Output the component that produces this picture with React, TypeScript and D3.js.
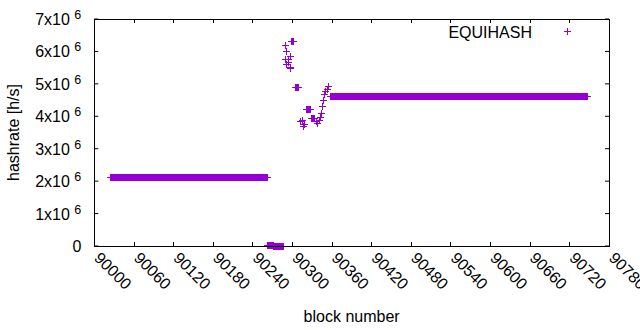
import React, { useEffect, useRef } from 'react';
import * as d3 from 'd3';

// flat runs of blocks sharing the same hashrate: [first block, last block, hashrate]
const flatRuns: [number, number, number][] = [
  [90025, 90263, 2.1e6],
  [90263, 90271, 0.02e6],
  [90272, 90287, 0],
  [90358, 90748, 4.62e6],
];

// individual blocks around the fork
const jumpBlocks = [
  90289, 90290, 90292, 90292, 90294, 90295, 90297, 90297, 90298,
  90299, 90300, 90301, 90302,
  90305, 90306, 90307, 90308, 90309, 90310,
  90313, 90316, 90317, 90319,
  90322, 90323, 90324, 90325, 90326, 90327, 90328,
  90329, 90330, 90331, 90332, 90333,
  90337, 90339, 90342, 90343, 90345, 90346, 90347, 90349, 90351, 90353, 90355,
];
const jumpRates = [
  5.74e6, 6.18e6, 6.01e6, 5.6e6, 5.76e6, 5.67e6, 5.84e6, 5.46e6, 5.5e6,
  6.31e6, 6.31e6, 6.31e6, 6.31e6,
  4.89e6, 4.89e6, 4.89e6, 4.89e6, 4.89e6, 4.89e6,
  3.85e6, 3.86e6, 3.69e6, 3.76e6,
  4.21e6, 4.21e6, 4.21e6, 4.21e6, 4.21e6, 4.21e6, 4.21e6,
  3.94e6, 3.94e6, 3.94e6, 3.94e6, 3.94e6,
  3.85e6, 3.79e6, 3.86e6, 3.95e6, 4.1e6, 4.31e6, 4.48e6, 4.67e6, 4.75e6, 4.82e6, 4.91e6,
];

const xTicks = d3.range(90000, 90781, 60);
const yTicks = [0, 1, 2, 3, 4, 5, 6, 7];
const seriesName = 'EQUIHASH';

function HashrateChart() {
  const ref = useRef<SVGSVGElement>(null);

  useEffect(() => {
    const svg = d3.select(ref.current);
    svg.selectAll('*').remove();
    const margin = { top: 19, right: 31, bottom: 84, left: 94.3 };
    const width = 640 - margin.left - margin.right;
    const height = 330 - margin.top - margin.bottom;
    const font = 'Liberation Sans, Arial, sans-serif';
    const color = '#9400d3';

    const points: [number, number][] = [];
    flatRuns.forEach(([a, b, v]) => {
      for (let blk = a; blk <= b; blk++) points.push([blk, v]);
    });
    jumpBlocks.forEach((blk, i) => points.push([blk, jumpRates[i]]));

    const x = d3.scaleLinear().domain([90000, 90780]).range([0, width]);
    const y = d3.scaleLinear().domain([0, 7e6]).range([height, 0]);

    svg.append('rect').attr('width', 640).attr('height', 330).attr('fill', '#fff');

    const g = svg.append('g')
      .attr('transform', 'translate(' + margin.left + ',' + margin.top + ')');

    const tick = 4;
    const ticks = g.append('g').attr('stroke', '#000').attr('stroke-width', 1);
    xTicks.forEach(t => {
      const px = Math.round(x(t)) + 0.5 - margin.left % 1;
      ticks.append('line').attr('x1', px).attr('x2', px).attr('y1', height).attr('y2', height - tick);
      ticks.append('line').attr('x1', px).attr('x2', px).attr('y1', 0).attr('y2', tick);
    });
    yTicks.forEach(t => {
      const py = y(t * 1e6);
      ticks.append('line').attr('x1', 0).attr('x2', tick).attr('y1', py).attr('y2', py);
      ticks.append('line').attr('x1', width).attr('x2', width - tick).attr('y1', py).attr('y2', py);
    });

    // y tick labels with superscript exponent
    yTicks.forEach(t => {
      const txt = g.append('text')
        .attr('x', -13)
        .attr('y', y(t * 1e6) + 6)
        .attr('text-anchor', 'end')
        .attr('font-family', font)
        .attr('font-size', 16)
        .attr('fill', '#000');
      if (t === 0) {
        txt.text('0');
      } else {
        txt.append('tspan').text(t + 'x10 ');
        txt.append('tspan').attr('font-size', 12.5).attr('dy', -6).text('6');
      }
    });

    // x tick labels rotated down-right
    xTicks.forEach(t => {
      g.append('text')
        .attr('transform', 'translate(' + (x(t) - 1) + ',' + (height + 13) + ') rotate(45)')
        .attr('font-family', font)
        .attr('font-size', 16)
        .attr('fill', '#000')
        .text(t);
    });

    g.append('text')
      .attr('x', width / 2)
      .attr('y', height + 76)
      .attr('text-anchor', 'middle')
      .attr('font-family', font)
      .attr('font-size', 16)
      .text('block number');

    g.append('text')
      .attr('transform', 'translate(' + (-75) + ',' + (height / 2) + ') rotate(-90)')
      .attr('text-anchor', 'middle')
      .attr('font-family', font)
      .attr('font-size', 16)
      .text('hashrate [h/s]');

    const plus = 'M-3.5,0H3.5M0,-3.5V3.5';
    g.append('g')
      .attr('shape-rendering', 'crispEdges')
      .selectAll('path')
      .data(points)
      .join('path')
      .attr('transform', d => 'translate(' + x(d[0]) + ',' + y(d[1]) + ')')
      .attr('d', plus)
      .attr('fill', 'none')
      .attr('stroke', color)
      .attr('stroke-width', 1);

    // legend
    g.append('text')
      .attr('x', 532 - margin.left)
      .attr('y', 38 - margin.top)
      .attr('text-anchor', 'end')
      .attr('font-family', font)
      .attr('font-size', 16)
      .text(seriesName);
    g.append('path')
      .attr('transform', 'translate(' + (567 - margin.left) + ',' + (31.5 - margin.top) + ')')
      .attr('d', plus)
      .attr('fill', 'none')
      .attr('stroke', color)
      .attr('shape-rendering', 'crispEdges');

    g.append('rect')
      .attr('x', 0.5 - margin.left % 1)
      .attr('y', 0.5)
      .attr('width', Math.round(width))
      .attr('height', Math.round(height))
      .attr('fill', 'none')
      .attr('stroke', '#000')
      .attr('stroke-width', 1);
  }, []);

  return <svg ref={ref} width="640" height="330" style={{ position: 'absolute', left: 0, top: 0 }} />;
}

export default function App() {
  return <HashrateChart />;
}
